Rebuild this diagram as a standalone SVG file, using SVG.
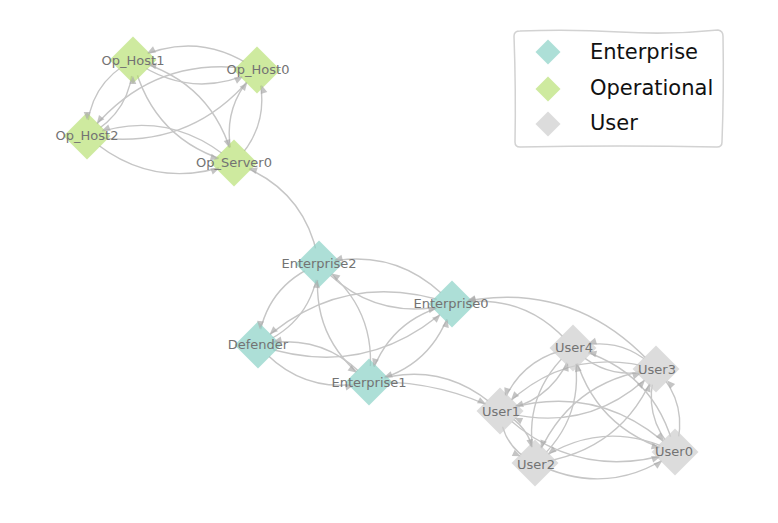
<svg xmlns="http://www.w3.org/2000/svg" width="778" height="523" viewBox="0 0 778 523">
<style>
.e{fill:none;stroke:#c6c6c6;stroke-width:1.4}
.a{fill:none;stroke:none;marker-end:url(#ah)}
.ent{fill:#8dd3c7;fill-opacity:0.72}
.op{fill:#b3de69;fill-opacity:0.64}
.usr{fill:#cfcfcf;fill-opacity:0.72}
.lbl{font-family:"DejaVu Sans",sans-serif;font-size:13px;fill:#737373;text-anchor:middle;dominant-baseline:central}
.leg{font-family:"DejaVu Sans",sans-serif;font-size:21px;fill:#111}
</style>
<defs>
<path id="dia" d="M0,-23.5L23.5,0L0,23.5L-23.5,0Z"/>
<path id="ldia" d="M0,-12.5L12.5,0L0,12.5L-12.5,0Z"/>
<marker id="ah" markerUnits="userSpaceOnUse" markerWidth="30" markerHeight="30" refX="0" refY="0" orient="auto" overflow="visible">
<path d="M-24,-3.4L-16,0L-24,3.4Z" fill="#ababab" fill-opacity="0.7"/>
</marker>
<mask id="nm" maskUnits="userSpaceOnUse" x="0" y="0" width="778" height="523">
<rect x="0" y="0" width="778" height="523" fill="#fff"/>
<g fill="#000">
<circle cx="133" cy="60" r="16"/><circle cx="257" cy="70" r="16"/><circle cx="87" cy="136" r="16"/><circle cx="234" cy="163" r="16"/>
<circle cx="319" cy="264" r="16"/><circle cx="452" cy="304" r="16"/><circle cx="258" cy="345" r="16"/><circle cx="369" cy="382" r="16"/>
<circle cx="573" cy="348" r="16"/><circle cx="656" cy="369" r="16"/><circle cx="500" cy="411" r="16"/><circle cx="675" cy="452" r="16"/><circle cx="535" cy="463" r="16"/>
</g>
</mask>
<path id="e1" d="M133,60 Q192,102.2 257,70"/>
<path id="e2" d="M257,70 Q198,27.8 133,60"/>
<path id="e3" d="M133,60 Q87.2,84.2 87,136"/>
<path id="e4" d="M87,136 Q132.8,111.8 133,60"/>
<path id="e5" d="M133,60 Q152.6,141.8 234,163"/>
<path id="e6" d="M234,163 Q214.4,81.2 133,60"/>
<path id="e7" d="M257,70 Q152.2,52 87,136"/>
<path id="e8" d="M87,136 Q191.8,154 257,70"/>
<path id="e9" d="M257,70 Q217.6,109.6 234,163"/>
<path id="e10" d="M234,163 Q273.4,123.4 257,70"/>
<path id="e11" d="M87,136 Q152.4,193.6 234,163"/>
<path id="e12" d="M234,163 Q168.6,105.4 87,136"/>
<path id="e13" d="M319,264 Q306.8,188 234,163"/>
<path id="e14" d="M319,264 Q373.5,323.9 452,304"/>
<path id="e15" d="M452,304 Q397.5,244.1 319,264"/>
<path id="e16" d="M319,264 Q264.2,286.2 258,345"/>
<path id="e17" d="M258,345 Q312.8,322.8 319,264"/>
<path id="e18" d="M319,264 Q308.6,338 369,382"/>
<path id="e19" d="M369,382 Q379.4,308 319,264"/>
<path id="e20" d="M452,304 Q342.7,266.3 258,345"/>
<path id="e21" d="M258,345 Q367.3,382.7 452,304"/>
<path id="e22" d="M452,304 Q387.1,318.1 369,382"/>
<path id="e23" d="M369,382 Q433.9,367.9 452,304"/>
<path id="e24" d="M258,345 Q302.4,396.8 369,382"/>
<path id="e25" d="M369,382 Q324.6,330.2 258,345"/>
<path id="e26" d="M573,348 Q525.7,289.7 452,304"/>
<path id="e27" d="M656,369 Q573.5,275.3 452,304"/>
<path id="e28" d="M500,411 Q443.2,357.2 369,382"/>
<path id="e29" d="M369,382 Q438,380 500,411"/>
<path id="e30" d="M573,348 Q608.2,383.4 656,369"/>
<path id="e31" d="M656,369 Q620.8,333.6 573,348"/>
<path id="e32" d="M573,348 Q517.6,357.6 500,411"/>
<path id="e33" d="M500,411 Q555.4,401.4 573,348"/>
<path id="e34" d="M573,348 Q592.8,430.6 675,452"/>
<path id="e35" d="M675,452 Q655.2,369.4 573,348"/>
<path id="e36" d="M573,348 Q519.5,394.1 535,463"/>
<path id="e37" d="M535,463 Q588.5,416.9 573,348"/>
<path id="e38" d="M656,369 Q565.4,343.2 500,411"/>
<path id="e39" d="M500,411 Q590.6,436.8 656,369"/>
<path id="e40" d="M656,369 Q640.6,416.2 675,452"/>
<path id="e41" d="M675,452 Q690.4,404.8 656,369"/>
<path id="e42" d="M656,369 Q567.3,379.7 535,463"/>
<path id="e43" d="M535,463 Q623.7,452.3 656,369"/>
<path id="e44" d="M500,411 Q575.2,484 675,452"/>
<path id="e45" d="M675,452 Q599.8,379 500,411"/>
<path id="e46" d="M500,411 Q501.9,447.5 535,463"/>
<path id="e47" d="M535,463 Q533.1,426.5 500,411"/>
<path id="e48" d="M675,452 Q601.7,415.5 535,463"/>
<path id="e49" d="M535,463 Q608.3,499.5 675,452"/>
</defs>
<rect x="0" y="0" width="778" height="523" fill="#fff"/>

<g id="connectors">
<g class="e" mask="url(#nm)">
<use href="#e1"/><use href="#e2"/><use href="#e3"/><use href="#e4"/><use href="#e5"/><use href="#e6"/><use href="#e7"/><use href="#e8"/><use href="#e9"/><use href="#e10"/>
<use href="#e11"/><use href="#e12"/><use href="#e13"/><use href="#e14"/><use href="#e15"/><use href="#e16"/><use href="#e17"/><use href="#e18"/><use href="#e19"/><use href="#e20"/>
<use href="#e21"/><use href="#e22"/><use href="#e23"/><use href="#e24"/><use href="#e25"/><use href="#e26"/><use href="#e27"/><use href="#e28"/><use href="#e29"/><use href="#e30"/>
<use href="#e31"/><use href="#e32"/><use href="#e33"/><use href="#e34"/><use href="#e35"/><use href="#e36"/><use href="#e37"/><use href="#e38"/><use href="#e39"/><use href="#e40"/>
<use href="#e41"/><use href="#e42"/><use href="#e43"/><use href="#e44"/><use href="#e45"/><use href="#e46"/><use href="#e47"/><use href="#e48"/><use href="#e49"/>
</g>
</g>

<g id="Op_Host1" transform="translate(133,60)"><use href="#dia" class="op"/></g>
<g id="Op_Host0" transform="translate(257,70)"><use href="#dia" class="op"/></g>
<g id="Op_Host2" transform="translate(87,136)"><use href="#dia" class="op"/></g>
<g id="Op_Server0" transform="translate(234,163)"><use href="#dia" class="op"/></g>
<g id="Enterprise2" transform="translate(319,264)"><use href="#dia" class="ent"/></g>
<g id="Enterprise0" transform="translate(452,304)"><use href="#dia" class="ent"/></g>
<g id="Defender" transform="translate(258,345)"><use href="#dia" class="ent"/></g>
<g id="Enterprise1" transform="translate(369,382)"><use href="#dia" class="ent"/></g>
<g id="User4" transform="translate(573,348)"><use href="#dia" class="usr"/></g>
<g id="User3" transform="translate(656,369)"><use href="#dia" class="usr"/></g>
<g id="User1" transform="translate(500,411)"><use href="#dia" class="usr"/></g>
<g id="User0" transform="translate(675,452)"><use href="#dia" class="usr"/></g>
<g id="User2" transform="translate(535,463)"><use href="#dia" class="usr"/></g>

<g id="arrowheads" class="a">
<use href="#e1"/><use href="#e2"/><use href="#e3"/><use href="#e4"/><use href="#e5"/><use href="#e6"/><use href="#e7"/><use href="#e8"/><use href="#e9"/><use href="#e10"/>
<use href="#e11"/><use href="#e12"/><use href="#e13"/><use href="#e14"/><use href="#e15"/><use href="#e16"/><use href="#e17"/><use href="#e18"/><use href="#e19"/><use href="#e20"/>
<use href="#e21"/><use href="#e22"/><use href="#e23"/><use href="#e24"/><use href="#e25"/><use href="#e26"/><use href="#e27"/><use href="#e28"/><use href="#e29"/><use href="#e30"/>
<use href="#e31"/><use href="#e32"/><use href="#e33"/><use href="#e34"/><use href="#e35"/><use href="#e36"/><use href="#e37"/><use href="#e38"/><use href="#e39"/><use href="#e40"/>
<use href="#e41"/><use href="#e42"/><use href="#e43"/><use href="#e44"/><use href="#e45"/><use href="#e46"/><use href="#e47"/><use href="#e48"/><use href="#e49"/>
</g>

<g id="labels">
<text class="lbl" x="133" y="60">Op_Host1</text>
<text class="lbl" x="258" y="69">Op_Host0</text>
<text class="lbl" x="87" y="135">Op_Host2</text>
<text class="lbl" x="234" y="162">Op_Server0</text>
<text class="lbl" x="319" y="263">Enterprise2</text>
<text class="lbl" x="451" y="303">Enterprise0</text>
<text class="lbl" x="258" y="344">Defender</text>
<text class="lbl" x="369" y="382">Enterprise1</text>
<text class="lbl" x="574" y="347">User4</text>
<text class="lbl" x="657" y="369">User3</text>
<text class="lbl" x="501" y="411">User1</text>
<text class="lbl" x="674" y="451">User0</text>
<text class="lbl" x="536" y="464">User2</text>
</g>

<g id="legend">
<path d="M520,31 Q570,29 620,32 T718,30 Q723,31 723,36 Q724,90 722,142 Q722,147 717,147 Q620,145 520,147 Q515,147 515,142 Q516,90 514,36 Q514,31 520,31 Z" fill="#fff" stroke="#d2d2d2" stroke-width="1.5"/>
<use href="#ldia" class="ent" x="548" y="52"/>
<use href="#ldia" class="op" x="548" y="89"/>
<use href="#ldia" class="usr" x="548" y="124"/>
<text class="leg" x="590" y="59">Enterprise</text>
<text class="leg" x="590" y="95">Operational</text>
<text class="leg" x="590" y="130">User</text>
</g>
</svg>
